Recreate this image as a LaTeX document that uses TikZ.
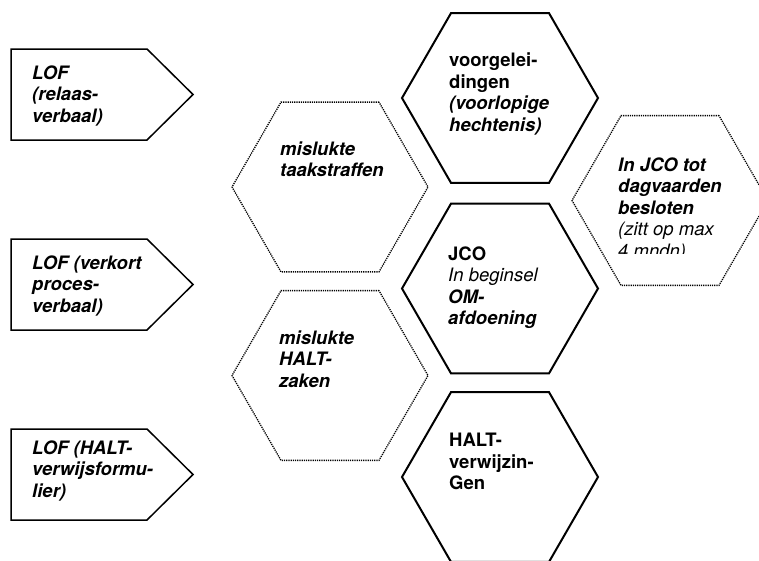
\documentclass[tikz,border=0pt]{standalone}
\usepackage{fontspec}
\setmainfont{TeX Gyre Heros}
\usetikzlibrary{shapes.geometric}

\begin{document}
\begin{tikzpicture}[x=1pt,y=-1pt,
    hexagon/.style={regular polygon,regular polygon sides=6,minimum size=196pt,
      inner sep=0pt,outer sep=0pt},
    hexsolid/.style={hexagon,draw,line width=2pt},
    hexdotted/.style={hexagon,draw,line width=1.3pt,dash pattern=on 1.2pt off 1pt},
    lofbox/.style={draw,line width=1.5pt,line join=miter},
    txt/.style={anchor=base west,align=left,inner sep=0pt,
      font=\fontsize{18.5}{21.5}\selectfont},
    txtbi/.style={txt,font=\fontsize{18.5}{21.5}\selectfont\bfseries\itshape}]
  \clip (0,0) rectangle (759,560);
  % LOF arrows (text nodes sit on the baseline of their last line)
  \draw[lofbox] (11,49) -- (147,49) -- (193,94.5) -- (147,140) -- (11,140) -- cycle;
  \draw[lofbox] (11,239) -- (147,239) -- (193,284.5) -- (147,330) -- (11,330) -- cycle;
  \draw[lofbox] (11,429) -- (147,429) -- (193,474.5) -- (147,520) -- (11,520) -- cycle;
  \node[txtbi] (lofA) at (32,122) {LOF\\(relaas-\\verbaal)};
  \node[txtbi] (lofB) at (32,312) {LOF (verkort\\proces-\\verbaal)};
  \node[txtbi] (lofC) at (32,497) {LOF (HALT-\\verwijsformu-\\lier)};
  % hexagons
  \node[hexdotted] (taak) at (330,187) {};
  \node[hexdotted] (haltzaak) at (330,375.5) {};
  \node[hexsolid] (voor) at (500,98) {};
  \node[hexsolid] (jco) at (500,288.5) {};
  \node[hexsolid] (haltverw) at (500,477) {};
  \node[hexdotted] (besloten) at (670,200.5) {};
  \node[txtbi] (taaktxt) at (280,176.5) {mislukte\\taakstraffen};
  \node[txtbi] (haltzaaktxt) at (279,387) {mislukte\\HALT-\\zaken};
  \node[txt] (voortxt) at (449,131.2)
    {\bfseries voorgelei-\\\bfseries dingen\\\bfseries\itshape (voorlopige\\\bfseries\itshape hechtenis)};
  \node[txt] (jcotxt) at (448,324.5)
    {\bfseries JCO\\\itshape In beginsel\\\bfseries\itshape OM-\\\bfseries\itshape afdoening};
  \node[txt] (haltverwtxt) at (449,489.7) {\bfseries HALT-\\\bfseries verwijzin-\\\bfseries Gen};
  \begin{scope}
    \clip (560,100) rectangle (759,253);
    \node[txt] (beslotentxt) at (618,257)
      {\bfseries\itshape In JCO tot\\\bfseries\itshape dagvaarden\\\bfseries\itshape besloten\\\itshape (zitt op max\\\itshape 4 mndn)};
  \end{scope}
\end{tikzpicture}
\end{document}
